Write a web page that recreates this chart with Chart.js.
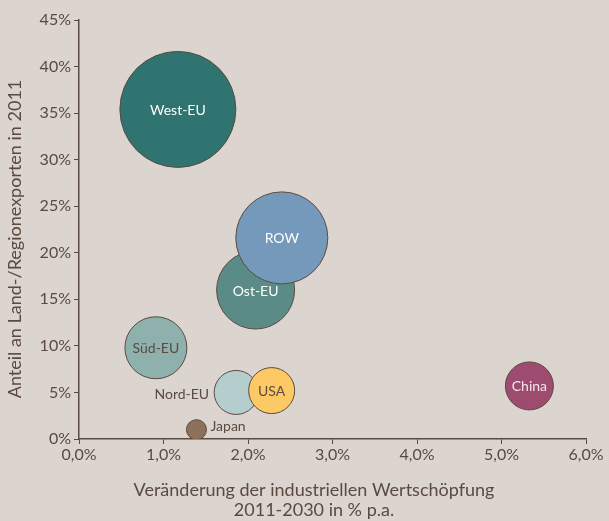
<!DOCTYPE html>
<html lang="de">
<head>
  <meta charset="UTF-8">
  <title>Anteil an Land-/Regionexporten</title>
  <script src="https://cdn.jsdelivr.net/npm/chart.js"></script>
  <style>
    body {
      margin: 0;
      padding: 0;
      background-color: #dbd4cf;
      overflow: hidden;
    }
    .chart-container {
      position: relative;
      width: 609px;
      height: 521px;
    }
  </style>
</head>
<body>
  <div class="chart-container">
    <canvas id="bubbleChart"></canvas>
  </div>

  <script>
    // Regionen und Werte
    const regions = ['West-EU', 'Süd-EU', 'Ost-EU', 'ROW', 'Nord-EU', 'USA', 'Japan', 'China'];
    const growth = [1.17, 0.91, 2.09, 2.40, 1.86, 2.28, 1.39, 5.33];      // % p.a. 2011-2030
    const exportShare = [35.4, 9.8, 16.0, 21.6, 5.0, 5.2, 1.0, 5.7];      // % in 2011
    const bubbleSize = [58, 31, 39, 46, 22, 23, 10, 24];

    const xTitle = ['Veränderung der industriellen Wertschöpfung', '2011-2030 in % p.a.'];
    const yTitle = 'Anteil an Land-/Regionexporten in 2011';

    const fillColors = ['#2f7470', '#8fb1ae', '#5a8b86', '#7499bb', '#b6cdce', '#fdc964', '#8d715c', '#9d4b6f'];
    const labelColors = ['#ffffff', '#5a4a40', '#ffffff', '#ffffff', '#5a4a40', '#5a4a40', '#5a4a40', '#f5e6ee'];
    const labelSide = ['c', 'c', 'c', 'c', 'l', 'c', 'r', 'c'];

    const textColor = '#5a4a40';
    const fontFamily = 'Lato, "Open Sans", sans-serif';

    // Beschriftung der Blasen
    const bubbleLabels = {
      id: 'bubbleLabels',
      afterDatasetsDraw(chart) {
        const ctx = chart.ctx;
        const meta = chart.getDatasetMeta(0);
        ctx.save();
        ctx.font = '14px ' + fontFamily;
        ctx.textBaseline = 'middle';
        meta.data.forEach((el, i) => {
          const r = bubbleSize[i];
          ctx.fillStyle = labelColors[i];
          if (labelSide[i] === 'l') {
            ctx.textAlign = 'right';
            ctx.fillText(regions[i], el.x - r - 5, el.y + 2);
          } else if (labelSide[i] === 'r') {
            ctx.textAlign = 'left';
            ctx.fillText(regions[i], el.x + r + 4, el.y - 3);
          } else {
            ctx.textAlign = 'center';
            ctx.fillText(regions[i], el.x, el.y + 1);
          }
        });
        ctx.restore();
      }
    };

    // Achsentitel (wie im Original leicht aus der Mitte versetzt)
    const axisTitles = {
      id: 'axisTitles',
      afterDraw(chart) {
        const ctx = chart.ctx;
        ctx.save();
        ctx.fillStyle = textColor;
        ctx.textAlign = 'center';
        ctx.textBaseline = 'middle';
        ctx.font = '18px ' + fontFamily;
        ctx.fillText(xTitle[0], 314, 490);
        ctx.fillText(xTitle[1], 314, 510);
        ctx.translate(15, 239);
        ctx.rotate(-Math.PI / 2);
        ctx.fillText(yTitle, 0, 0);
        ctx.restore();
      }
    };

    const points = regions.map((name, i) => ({ x: growth[i], y: exportShare[i], r: bubbleSize[i] }));

    new Chart(document.getElementById('bubbleChart').getContext('2d'), {
      type: 'bubble',
      data: {
        datasets: [{
          label: 'Regionen',
          data: points,
          backgroundColor: fillColors,
          borderColor: '#5a4a40',
          borderWidth: 1,
          hoverRadius: 0
        }]
      },
      options: {
        responsive: true,
        maintainAspectRatio: false,
        animation: false,
        events: [],
        layout: { autoPadding: false, padding: { top: 20, right: 23, left: 0, bottom: 0 } },
        plugins: {
          legend: { display: false },
          tooltip: { enabled: false }
        },
        scales: {
          x: {
            type: 'linear',
            min: 0,
            max: 6,
            afterFit(scale) { scale.height = 82; },
            ticks: {
              stepSize: 1,
              color: textColor,
              font: { family: fontFamily, size: 16 },
              padding: 1,
              callback: v => v.toFixed(1).replace('.', ',') + '%'
            },
            grid: { drawOnChartArea: false, drawTicks: true, tickLength: 5, color: textColor },
            border: { color: textColor, width: 1.5 }
          },
          y: {
            type: 'linear',
            min: 0,
            max: 45,
            afterFit(scale) { scale.width = 79; },
            ticks: {
              stepSize: 5,
              color: textColor,
              font: { family: fontFamily, size: 16 },
              padding: 3,
              callback: v => v + '%'
            },
            grid: { drawOnChartArea: false, drawTicks: true, tickLength: 5, color: textColor },
            border: { color: textColor, width: 1.5 }
          }
        }
      },
      plugins: [bubbleLabels, axisTitles]
    });
  </script>
</body>
</html>
